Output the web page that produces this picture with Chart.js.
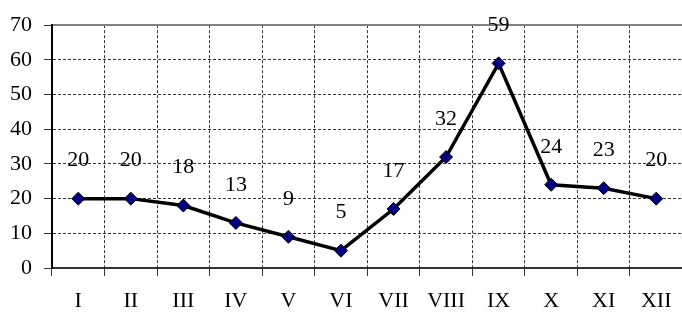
<!DOCTYPE html>
<html>
<head>
<meta charset="utf-8">
<script src="https://cdn.jsdelivr.net/npm/chart.js@4/dist/chart.umd.min.js"></script>
<style>
  html, body { margin: 0; padding: 0; background: #fff; overflow: hidden; }
  #wrap { width: 690px; height: 312px; }
</style>
</head>
<body>
<div id="wrap"><canvas id="myChart"></canvas></div>
<script>
// Datos del gráfico
const months = ['I', 'II', 'III', 'IV', 'V', 'VI', 'VII', 'VIII', 'IX', 'X', 'XI', 'XII'];
const values = [20, 20, 18, 13, 9, 5, 17, 32, 59, 24, 23, 20];
const yTicks = [0, 10, 20, 30, 40, 50, 60, 70];

const serif = '"Liberation Serif", "Times New Roman", serif';

// Etiquetas de valor encima de cada punto
const valueLabels = {
  id: 'valueLabels',
  afterDatasetsDraw(chart) {
    const ctx = chart.ctx;
    const meta = chart.getDatasetMeta(0);
    ctx.save();
    ctx.font = '22px ' + serif;
    ctx.fillStyle = '#000';
    ctx.textAlign = 'center';
    ctx.textBaseline = 'middle';
    meta.data.forEach((pt, i) => {
      ctx.fillText(String(values[i]), pt.x, pt.y - 38);
    });
    ctx.restore();
  }
};

function renderLineChart(labels, data) {
  const ctx = document.getElementById('myChart').getContext('2d');
  new Chart(ctx, {
    type: 'line',
    data: {
      labels: labels,
      datasets: [{
        data: data,
        borderColor: '#000',
        borderWidth: 3.5,
        pointStyle: 'rectRot',
        pointRadius: 6.5,
        pointBackgroundColor: '#000080',
        pointBorderColor: '#000',
        pointBorderWidth: 1,
        tension: 0,
        clip: false
      }]
    },
    options: {
      responsive: true,
      maintainAspectRatio: false,
      animation: false,
      layout: { padding: 0 },
      plugins: { legend: { display: false }, tooltip: { enabled: false } },
      scales: {
        x: {
          position: 'bottom',
          offset: true,
          grid: {
            offset: true,
            color: '#333',
            lineWidth: 1,
            tickLength: 8
          },
          border: { display: true, color: '#333', width: 2, dash: [3, 2] },
          ticks: {
            color: '#000',
            font: { family: serif, size: 22 },
            padding: 12,
            maxRotation: 0,
            autoSkip: false
          },
          afterFit: s => { s.height = 44; }
        },
        xTop: {
          position: 'top',
          grid: { display: false },
          border: { display: true, color: '#808080', width: 2 },
          ticks: { display: false },
          afterFit: s => { s.height = 22; }
        },
        y: {
          min: 0,
          max: 70,
          afterBuildTicks: s => { s.ticks = yTicks.map(v => ({ value: v })); },
          grid: {
            color: '#333',
            lineWidth: 1,
            tickLength: 8
          },
          border: { display: true, color: '#000', width: 2, dash: [3, 2] },
          ticks: {
            color: '#000',
            font: { family: serif, size: 22 },
            padding: 12
          },
          afterFit: s => { s.width = 52; }
        }
      }
    },
    plugins: [valueLabels]
  });
}

renderLineChart(months, values);
</script>
</body>
</html>
